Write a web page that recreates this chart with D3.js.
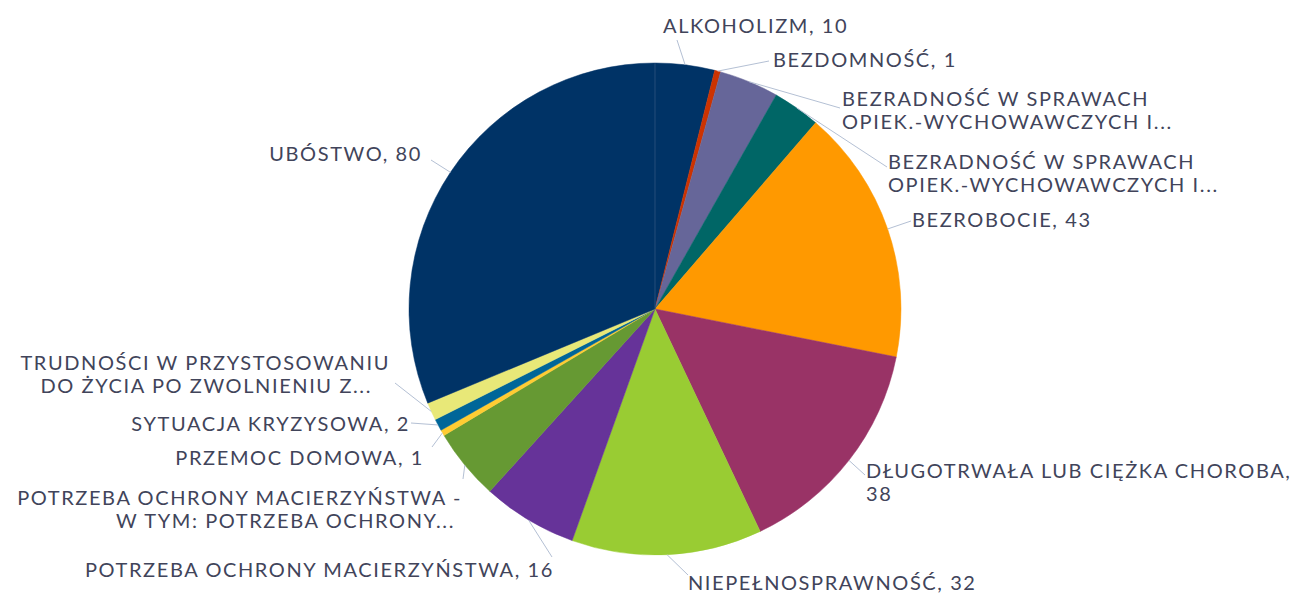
<!DOCTYPE html>
<html>
<head>
<meta charset="utf-8">
<script src="https://cdn.jsdelivr.net/npm/d3@7"></script>
<style>
  body { margin: 0; background: #fff; }
  .label { font-family: Lato, "Noto Sans", sans-serif; font-size: 20px; letter-spacing: 1.6px; fill: #41445a; }
</style>
</head>
<body>
<div id="container"></div>
<script>
/* CONSTANTS AND GLOBALS */
const width = 1294;
const height = 593;

/* DATA */
const categories = [
  "ALKOHOLIZM",
  "BEZDOMNOŚĆ",
  "BEZRADNOŚĆ W SPRAWACH OPIEK.-WYCHOWAWCZYCH I... (1)",
  "BEZRADNOŚĆ W SPRAWACH OPIEK.-WYCHOWAWCZYCH I... (2)",
  "BEZROBOCIE",
  "DŁUGOTRWAŁA LUB CIĘŻKA CHOROBA",
  "NIEPEŁNOSPRAWNOŚĆ",
  "POTRZEBA OCHRONY MACIERZYŃSTWA",
  "POTRZEBA OCHRONY MACIERZYŃSTWA - W TYM: POTRZEBA OCHRONY...",
  "PRZEMOC DOMOWA",
  "SYTUACJA KRYZYSOWA",
  "TRUDNOŚCI W PRZYSTOSOWANIU DO ŻYCIA PO ZWOLNIENIU Z...",
  "UBÓSTWO"
];
const values = [10, 1, 10, 8, 43, 38, 32, 16, 12, 1, 2, 3, 80];
// label text lines as shown on the chart
const labelLines = [
  ["ALKOHOLIZM, 10"],
  ["BEZDOMNOŚĆ, 1"],
  ["BEZRADNOŚĆ W SPRAWACH", "OPIEK.-WYCHOWAWCZYCH I..."],
  ["BEZRADNOŚĆ W SPRAWACH", "OPIEK.-WYCHOWAWCZYCH I..."],
  ["BEZROBOCIE, 43"],
  ["DŁUGOTRWAŁA LUB CIĘŻKA CHOROBA,", "38"],
  ["NIEPEŁNOSPRAWNOŚĆ, 32"],
  ["POTRZEBA OCHRONY MACIERZYŃSTWA, 16"],
  ["POTRZEBA OCHRONY MACIERZYŃSTWA -", "W TYM: POTRZEBA OCHRONY..."],
  ["PRZEMOC DOMOWA, 1"],
  ["SYTUACJA KRYZYSOWA, 2"],
  ["TRUDNOŚCI W PRZYSTOSOWANIU", "DO ŻYCIA PO ZWOLNIENIU Z..."],
  ["UBÓSTWO, 80"]
];
const colors = ["#003366", "#cc3300", "#666699", "#006666", "#ff9900", "#993366",
  "#99cc33", "#663399", "#669933", "#ffcc33", "#006699", "#e8e878", "#003366"];

/* LAYOUT (label boxes: text x, anchor, first line centre y, per-line dx, leader end) */
const labelLayout = [
  { x: 663, anchor: "start", y: 25, dx: [0], lx: 677, ly: 40 },
  { x: 773, anchor: "start", y: 59, dx: [0], lx: 769, ly: 61 },
  { x: 842, anchor: "start", y: 98, dx: [0, 0], lx: 840, ly: 108 },
  { x: 888, anchor: "start", y: 161, dx: [0, 0], lx: 887, ly: 167 },
  { x: 912, anchor: "start", y: 219, dx: [0], lx: 911, ly: 221 },
  { x: 866, anchor: "start", y: 470, dx: [0, 0], lx: 865, ly: 475 },
  { x: 688, anchor: "start", y: 582, dx: [0], lx: 688, ly: 575 },
  { x: 554, anchor: "end", y: 569, dx: [0], lx: 552, ly: 557 },
  { x: 462, anchor: "end", y: 497, dx: [0, -7], lx: 463, ly: 479 },
  { x: 424, anchor: "end", y: 457, dx: [0], lx: 432, ly: 447 },
  { x: 410, anchor: "end", y: 423, dx: [0], lx: 411, ly: 423 },
  { x: 390, anchor: "end", y: 362, dx: [0, -18], lx: 395, ly: 383 },
  { x: 422, anchor: "end", y: 153, dx: [0], lx: 431, ly: 160 }
];

const cx = 655, cy = 309, radius = 246;
const lineGap = 23;

const data = categories.map((c, i) => ({ category: c, value: values[i], color: colors[i], lines: labelLines[i], layout: labelLayout[i] }));

/* HTML ELEMENTS */
const svg = d3.select("#container")
  .append("svg")
  .attr("width", width)
  .attr("height", height);

const pie = d3.pie()
  .value(d => d.value)
  .sort(null);

const arc = d3.arc()
  .innerRadius(0)
  .outerRadius(radius);

const arcs = pie(data);

const g = svg.append("g")
  .attr("transform", `translate(${cx},${cy})`);

// SLICES
g.selectAll("path.slice")
  .data(arcs)
  .join("path")
  .attr("class", "slice")
  .attr("d", arc)
  .attr("fill", d => d.data.color)
  .attr("stroke", d => d.data.color)
  .attr("stroke-width", 0.5);

// faint seam at 12 o'clock between the two navy slices
g.append("line")
  .attr("x1", 0).attr("y1", 0)
  .attr("x2", 0).attr("y2", -radius)
  .attr("stroke", "#2f5580")
  .attr("stroke-width", 0.8);

// LEADER LINES - from slice rim (mid angle) to label
g.selectAll("line.leader")
  .data(arcs)
  .join("line")
  .attr("class", "leader")
  .attr("x1", d => radius * Math.sin((d.startAngle + d.endAngle) / 2))
  .attr("y1", d => -radius * Math.cos((d.startAngle + d.endAngle) / 2))
  .attr("x2", d => d.data.layout.lx - cx)
  .attr("y2", d => d.data.layout.ly - cy)
  .attr("stroke", "#b4c0d4")
  .attr("stroke-width", 1);

// LABELS
const labels = svg.selectAll("text.label")
  .data(data)
  .join("text")
  .attr("class", "label")
  .attr("text-anchor", d => d.layout.anchor);

labels.selectAll("tspan")
  .data(d => d.lines.map((t, j) => ({ t, j, L: d.layout })))
  .join("tspan")
  .attr("x", d => d.L.x + d.L.dx[d.j])
  .attr("y", d => d.L.y + d.j * lineGap)
  .attr("dominant-baseline", "central")
  .text(d => d.t);
</script>
</body>
</html>
